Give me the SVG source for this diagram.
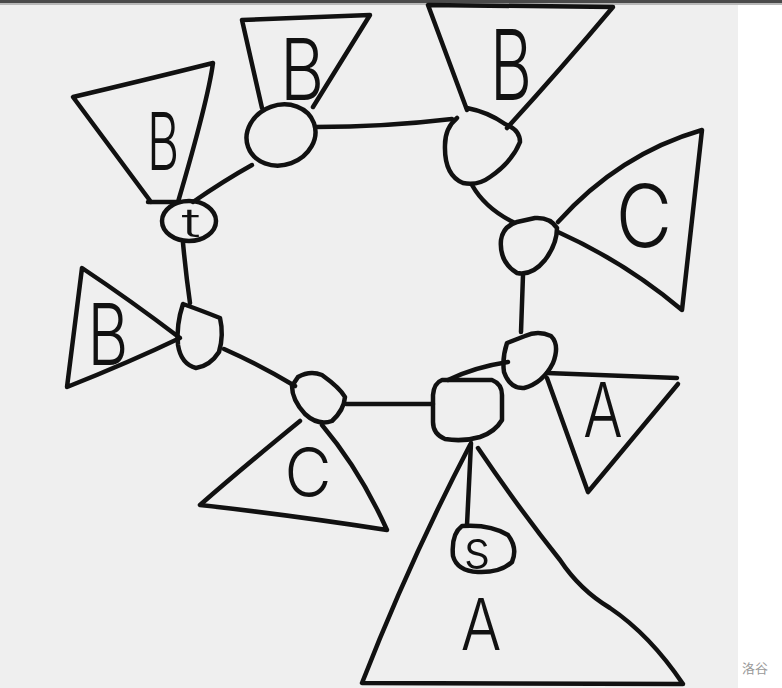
<svg xmlns="http://www.w3.org/2000/svg" width="782" height="688" viewBox="0 0 782 688">
<style>
.s{fill:none;stroke:#111;stroke-width:4.5;stroke-linecap:round;stroke-linejoin:round}
.l{font-family:Inter,"Liberation Sans",Arial,sans-serif;font-weight:300;fill:#111;text-anchor:middle}
</style>
<rect x="0" y="0" width="782" height="688" fill="#ffffff"/>
<rect x="0" y="3" width="738" height="685" fill="#efefef"/>
<rect x="0" y="0" width="782" height="3" fill="#4a4a4a"/>
<rect x="0" y="3" width="782" height="2" fill="#b8b8b8"/>
<text x="755" y="673" font-family="'Noto Sans CJK SC',sans-serif" font-size="13" fill="#999" text-anchor="middle">洛谷</text>

<g id="connectors">
<path class="s" d="M193,202 Q225,180 252,165"/>
<path class="s" d="M315,127 Q385,127 452,119"/>
<path class="s" d="M472,185 Q485,208 513,222"/>
<path class="s" d="M523,275 L521,332"/>
<path class="s" d="M508,362 Q475,367 448,380"/>
<path class="s" d="M346,404 L433,404"/>
<path class="s" d="M224,349 Q260,365 295,386"/>
<path class="s" d="M183,243 Q186,275 190,303"/>
<path class="s" d="M471,443 L467,525"/>
</g>

<g id="tree-B1">
<path class="s" d="M151,202 L73,97 Q145,80 213,63 Q208,100 178,202 M148,202 L180,202"/>
<text class="l" font-size="80" transform="translate(163,170) scale(0.62,1)">B</text>
</g>
<g id="tree-B2">
<path class="s" d="M262,108 L242,20 L370,15 L313,107"/>
<text class="l" font-size="85" transform="translate(302,100) scale(0.8,1)">B</text>
</g>
<g id="tree-B3">
<path class="s" d="M467,110 L428,5 L613,7 Q560,70 507,128"/>
<text class="l" font-size="98" transform="translate(511,100) scale(0.66,1)">B</text>
</g>
<g id="tree-C1">
<path class="s" d="M558,222 Q619,154 702,130 L682,310 Q625,262 558,232"/>
<text class="l" font-size="86" transform="translate(644,247) scale(0.9,1)">C</text>
</g>
<g id="tree-A1">
<path class="s" d="M547,373 L677,378 M678,384 L588,492 L547,378"/>
<text class="l" font-size="75" transform="translate(603,437) scale(0.78,1)">A</text>
</g>
<g id="tree-A2">
<path class="s" d="M470,445 Q410,560 362,683 L683,684 Q650,635 610,608 Q580,590 560,560 Q520,510 478,448"/>
<text class="l" font-size="71" transform="translate(481,650) scale(0.85,1)">A</text>
</g>
<g id="tree-C2">
<path class="s" d="M300,421 Q240,470 200,505 Q290,515 387,530 Q360,470 322,425"/>
<text class="l" font-size="68" transform="translate(308,497) scale(0.95,1)">C</text>
</g>
<g id="tree-B4">
<path class="s" d="M82,268 L67,387 Q130,362 180,338 Q130,300 82,268 Z"/>
<text class="l" font-size="85" transform="translate(108,365) scale(0.74,1)">B</text>
</g>

<g id="node-t">
<ellipse class="s" cx="189" cy="221" rx="27" ry="20"/>
<text class="l" font-size="40" transform="translate(191,237) scale(1.6,1)">t</text>
</g>
<g id="node-2">
<ellipse class="s" cx="281" cy="135" rx="35" ry="30" transform="rotate(-20 281 135)"/>
</g>
<g id="node-3">
<path class="s" d="M457,118 Q445,128 445,145 Q444,175 463,183 Q478,186 490,177 Q512,162 520,142 Q520,130 505,124 Q488,112 467,108"/>
</g>
<g id="node-4">
<path class="s" d="M517,222 Q503,226 501,240 Q499,262 517,273 Q532,276 545,260 Q557,244 557,228 Q550,217 535,218 Z"/>
</g>
<g id="node-5">
<path class="s" d="M507,343 Q502,358 504,372 Q510,389 524,388 Q543,383 553,363 Q560,345 551,336 Q538,330 525,336 Z"/>
</g>
<g id="node-6">
<path class="s" d="M442,380 L492,380 Q502,384 502,395 L502,420 Q495,432 480,437 Q463,442 445,439 Q433,434 433,422 L433,395 Q434,383 442,380 Z"/>
</g>
<g id="node-7">
<path class="s" d="M298,377 Q310,370 322,375 Q340,388 345,397 Q344,410 332,421 Q318,426 305,414 Q292,400 292,386 Z"/>
</g>
<g id="node-8">
<path class="s" d="M183,304 Q200,310 220,318 Q224,335 219,352 Q210,366 196,368 Q181,364 178,345 Q176,325 183,304 Z"/>
</g>
<g id="node-s">
<path class="s" d="M462,526 Q490,524 508,535 Q518,548 512,562 Q500,573 478,572 Q457,571 453,556 Q451,534 462,526 Z"/>
<text class="l" font-size="52" transform="translate(477,568)">s</text>
</g>
</svg>
